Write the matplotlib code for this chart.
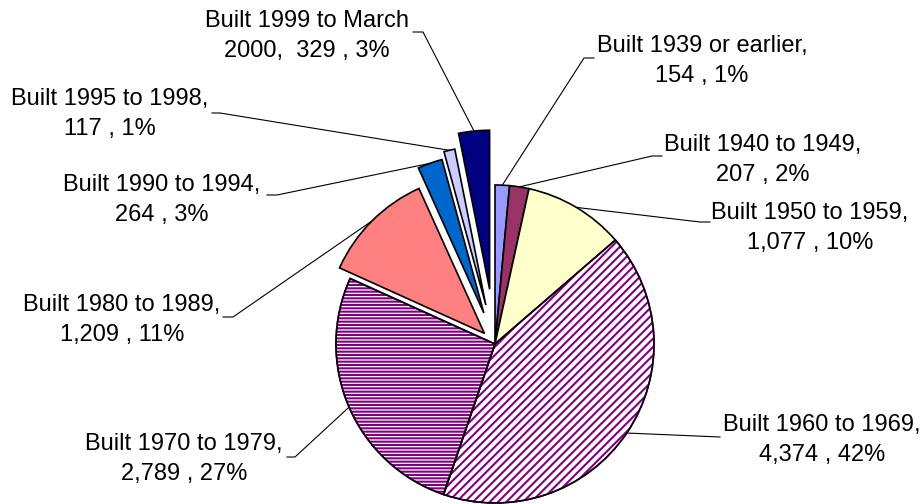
import numpy as np
import matplotlib.pyplot as plt
from matplotlib.patches import Wedge

plt.rcParams['font.family'] = ['Liberation Sans', 'DejaVu Sans']
plt.rcParams['hatch.linewidth'] = 1.5

names = ['Built 1939 or earlier', 'Built 1940 to 1949', 'Built 1950 to 1959',
         'Built 1960 to 1969', 'Built 1970 to 1979', 'Built 1980 to 1989',
         'Built 1990 to 1994', 'Built 1995 to 1998', 'Built 1999 to March\n2000']
counts = [154, 207, 1077, 4374, 2789, 1209, 264, 117, 329]

colors = ['#9999FF', '#993366', '#FFFFCC', 'white', 'white',
          '#FF8080', '#0066CC', '#CCCCFF', '#000080']
hatches = [None, None, None, '////', '-----', None, None, None, None]
explode = [0, 0, 0, 0, 0, 15, 33, 40, 55]

H = 504
# label centres and the point where the leader leaves the text (pixels, from top-left)
txt_pos = [(702, 61), (763, 160), (810, 228), (822, 440), (184, 459),
           (122, 320), (162, 200), (110, 114), (307, 36)]
lead_pos = [(594, 58), (662, 156), (710, 222), (720, 437), (287, 457),
            (223, 317), (267, 195), (212, 113), (413, 32)]
stub = [-10, -10, -10, 0, 8, 10, 10, 8, 10]

fig = plt.figure(figsize=(9.24, 5.04), dpi=100)
ax = fig.add_axes([0, 0, 1, 1])

wedges, _ = ax.pie(counts, colors=colors, explode=explode, startangle=90,
                   counterclock=False, radius=159, center=(495, H - 344),
                   wedgeprops=dict(edgecolor='black', linewidth=1.2))

for w, h in zip(wedges, hatches):
    if h:
        w.set_hatch(h)
        w.set_edgecolor('#800080')  # hatch colour follows edge colour
        ax.add_patch(Wedge(w.center, w.r, w.theta1, w.theta2, fill=False,
                           edgecolor='black', lw=1.2, zorder=w.get_zorder() + 0.1))

total = sum(counts)
for i, w in enumerate(wedges):
    pct = round(100 * counts[i] / total)
    sep = ',  ' if '\n' in names[i] else ',\n'
    label = f'{names[i]}{sep}{counts[i]:,} , {pct}%'
    ang = np.deg2rad((w.theta1 + w.theta2) / 2)
    ex = w.center[0] + w.r * np.cos(ang)
    ey = w.center[1] + w.r * np.sin(ang)
    lx, ly = lead_pos[i]
    ax.plot([ex, lx + stub[i], lx], [ey, H - ly, H - ly], color='black', lw=0.8)
    tx, ty = txt_pos[i]
    ax.text(tx, H - ty, label, ha='center', va='center', fontsize=17, linespacing=1.45)

ax.set_xlim(0, 924)
ax.set_ylim(0, H)
ax.set_aspect('equal')
ax.axis('off')

fig.savefig('out.png', dpi=100)
